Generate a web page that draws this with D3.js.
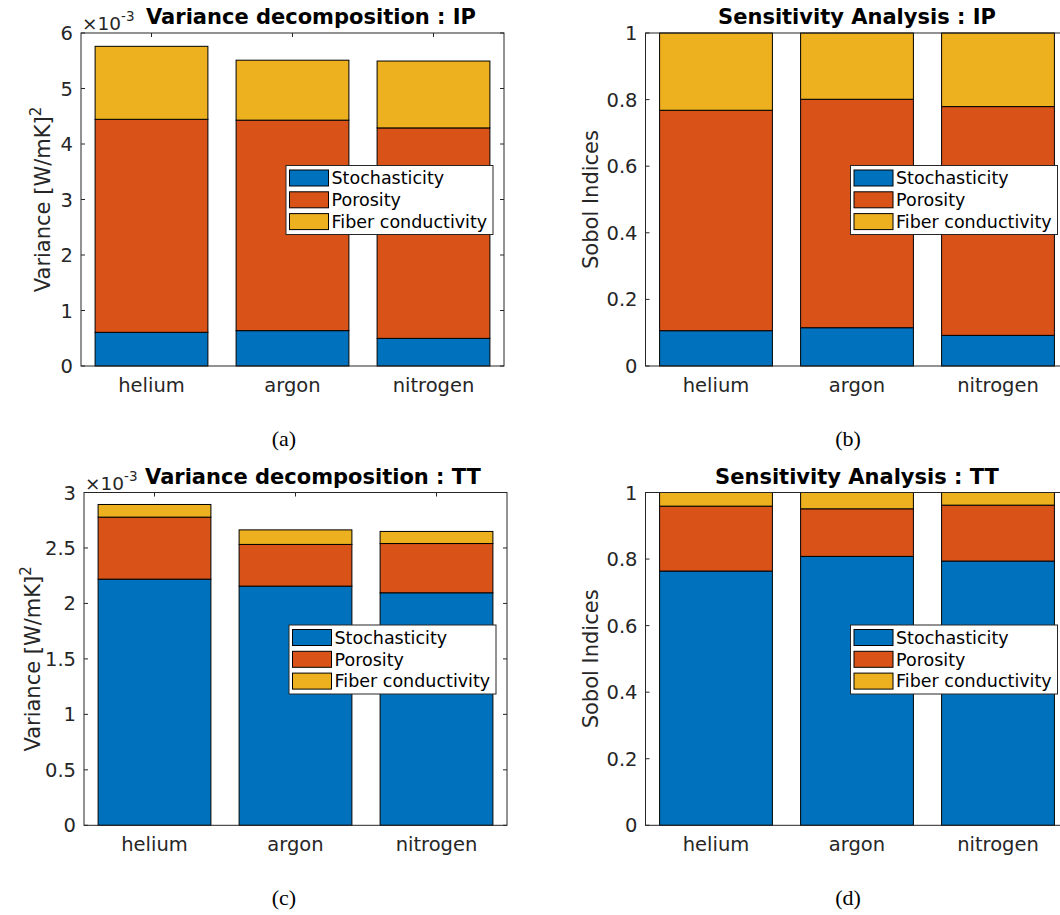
<!DOCTYPE html>
<html><head><meta charset="utf-8">
<script src="https://cdn.jsdelivr.net/npm/d3@7"></script>
<style>
html,body{margin:0;padding:0;background:#fff;}
svg{display:block;}
text{font-family:"DejaVu Sans",sans-serif;}
</style></head>
<body>
<svg id="chart" width="1060" height="915"></svg>
<script>
// ---------- data ----------
const categories = ["helium", "argon", "nitrogen"];
const seriesNames = ["Stochasticity", "Porosity", "Fiber conductivity"];
const seriesColors = ["#0072BD", "#D95319", "#EDB120"];

// (a) Variance decomposition : IP   [W/mK]^2
const ipVarStochasticity = [0.000607, 0.000637, 0.000498];
const ipVarPorosity      = [0.003838, 0.003793, 0.003792];
const ipVarFiber         = [0.001315, 0.001080, 0.001205];

// (b) Sensitivity Analysis : IP   Sobol indices
const ipSobolStochasticity = [0.106, 0.115, 0.092];
const ipSobolPorosity      = [0.662, 0.686, 0.687];
const ipSobolFiber         = [0.232, 0.199, 0.221];

// (c) Variance decomposition : TT
const ttVarStochasticity = [0.002219, 0.002156, 0.002096];
const ttVarPorosity      = [0.000559, 0.000376, 0.000444];
const ttVarFiber         = [0.000114, 0.000131, 0.000109];

// (d) Sensitivity Analysis : TT
const ttSobolStochasticity = [0.764, 0.808, 0.794];
const ttSobolPorosity      = [0.195, 0.143, 0.168];
const ttSobolFiber         = [0.041, 0.049, 0.038];

// tick values
const ticksA = [0, 0.001, 0.002, 0.003, 0.004, 0.005, 0.006];
const ticksC = [0, 0.0005, 0.001, 0.0015, 0.002, 0.0025, 0.003];
const ticksSobol = [0, 0.2, 0.4, 0.6, 0.8, 1];

const panels = [
  {title: "Variance decomposition : IP", ylabel: "Variance [W/mK]", sup: "2", exp: true,
   series: [ipVarStochasticity, ipVarPorosity, ipVarFiber], ymax: 0.006, ticks: ticksA,
   fmt: v => d3.format("~g")(+(v*1000).toFixed(6)),
   box: {x0: 81, x1: 504, y0: 33, y1: 366}, titleX: 311, ylabX: 50, cap: "(a)", capX: 284, capY: 446},
  {title: "Sensitivity Analysis : IP", ylabel: "Sobol Indices", sup: null, exp: false,
   series: [ipSobolStochasticity, ipSobolPorosity, ipSobolFiber], ymax: 1, ticks: ticksSobol,
   fmt: d3.format("~g"),
   box: {x0: 645.5, x1: 1068.5, y0: 33, y1: 366}, titleX: 857, ylabX: 598, cap: "(b)", capX: 848, capY: 446},
  {title: "Variance decomposition : TT", ylabel: "Variance [W/mK]", sup: "2", exp: true,
   series: [ttVarStochasticity, ttVarPorosity, ttVarFiber], ymax: 0.003, ticks: ticksC,
   fmt: v => d3.format("~g")(+(v*1000).toFixed(6)),
   box: {x0: 84, x1: 507, y0: 492.5, y1: 825.3}, titleX: 313, ylabX: 40, cap: "(c)", capX: 284, capY: 905},
  {title: "Sensitivity Analysis : TT", ylabel: "Sobol Indices", sup: null, exp: false,
   series: [ttSobolStochasticity, ttSobolPorosity, ttSobolFiber], ymax: 1, ticks: ticksSobol,
   fmt: d3.format("~g"),
   box: {x0: 645.5, x1: 1068.5, y0: 492.5, y1: 825.3}, titleX: 857, ylabX: 598, cap: "(d)", capX: 848, capY: 905}
];

const svg = d3.select("#chart");
const axisColor = "#262626";
const tickLen = 4;

panels.forEach(p => {
  const b = p.box;
  const g = svg.append("g");
  const x = d3.scaleBand().domain(categories).range([b.x0, b.x1]).paddingInner(0.2).paddingOuter(0.1);
  const y = d3.scaleLinear().domain([0, p.ymax]).range([b.y1, b.y0]);

  const rows = categories.map((c, i) => {
    const r = {cat: c};
    seriesNames.forEach((s, k) => r[s] = p.series[k][i]);
    return r;
  });
  const stacked = d3.stack().keys(seriesNames)(rows);

  g.append("rect").attr("x", b.x0).attr("y", b.y0).attr("width", b.x1 - b.x0).attr("height", b.y1 - b.y0)
    .attr("fill", "#fff");

  const tg = g.append("g").attr("stroke", axisColor).attr("stroke-width", 1);
  p.ticks.forEach(t => {
    tg.append("line").attr("x1", b.x0).attr("x2", b.x0 + tickLen).attr("y1", y(t)).attr("y2", y(t));
    tg.append("line").attr("x1", b.x1).attr("x2", b.x1 - tickLen).attr("y1", y(t)).attr("y2", y(t));
  });
  categories.forEach(c => {
    const cx = x(c) + x.bandwidth() / 2;
    tg.append("line").attr("x1", cx).attr("x2", cx).attr("y1", b.y1).attr("y2", b.y1 - tickLen);
    tg.append("line").attr("x1", cx).attr("x2", cx).attr("y1", b.y0).attr("y2", b.y0 + tickLen);
  });

  stacked.forEach((layer, k) => {
    g.append("g").selectAll("rect").data(layer).join("rect")
      .attr("x", d => x(d.data.cat))
      .attr("width", x.bandwidth())
      .attr("y", d => y(d[1]))
      .attr("height", d => y(d[0]) - y(d[1]))
      .attr("fill", seriesColors[k])
      .attr("stroke", "#000")
      .attr("stroke-width", 1);
  });

  g.append("rect").attr("x", b.x0).attr("y", b.y0).attr("width", b.x1 - b.x0).attr("height", b.y1 - b.y0)
    .attr("fill", "none").attr("stroke", axisColor).attr("stroke-width", 1);

  p.ticks.forEach(t => {
    g.append("text").attr("x", b.x0 - 8).attr("y", y(t)).attr("dy", "0.36em")
      .attr("text-anchor", "end").attr("font-size", 19.5).attr("fill", axisColor).text(p.fmt(t));
  });
  categories.forEach(c => {
    g.append("text").attr("x", x(c) + x.bandwidth() / 2).attr("y", b.y1 + 25.5)
      .attr("text-anchor", "middle").attr("font-size", 19.5).attr("fill", axisColor).text(c);
  });

  if (p.exp) {
    const e = g.append("text").attr("x", b.x0 + 1).attr("y", b.y0 - 3).attr("font-size", 18.5).attr("fill", axisColor);
    e.append("tspan").text("\u00d710");
    e.append("tspan").attr("dy", -9).attr("font-size", 13.5).text("-3");
  }

  g.append("text").attr("x", p.titleX).attr("y", b.y0 - 9).attr("text-anchor", "middle")
    .attr("font-size", 21).attr("font-weight", "bold").attr("fill", "#000").text(p.title);

  const yl = g.append("text").attr("transform", `translate(${p.ylabX},${(b.y0 + b.y1) / 2}) rotate(-90)`)
    .attr("text-anchor", "middle").attr("font-size", 21).attr("fill", axisColor);
  yl.append("tspan").text(p.ylabel);
  if (p.sup) yl.append("tspan").attr("dy", -9).attr("font-size", 15).text(p.sup);

  const lw = 207, lh = 69;
  const lx = b.x1 - 11 - lw, ly = b.y0 + 132.5;
  const lg = g.append("g");
  lg.append("rect").attr("x", lx).attr("y", ly).attr("width", lw).attr("height", lh)
    .attr("fill", "#fff").attr("stroke", axisColor).attr("stroke-width", 1);
  seriesNames.forEach((s, k) => {
    const ry = ly + 4.5 + k * 21.8;
    lg.append("rect").attr("x", lx + 3.5).attr("y", ry).attr("width", 39).attr("height", 16)
      .attr("fill", seriesColors[k]).attr("stroke", "#000").attr("stroke-width", 1);
    lg.append("text").attr("x", lx + 45.5).attr("y", ry + 8).attr("dy", "0.36em")
      .attr("font-size", 17.5).attr("fill", "#000").text(s);
  });

  svg.append("text").attr("x", p.capX).attr("y", p.capY).attr("text-anchor", "middle")
    .style("font-family", "'Liberation Serif', serif")
    .attr("font-size", 22).attr("fill", "#000").text(p.cap);
});
</script>
</body></html>
